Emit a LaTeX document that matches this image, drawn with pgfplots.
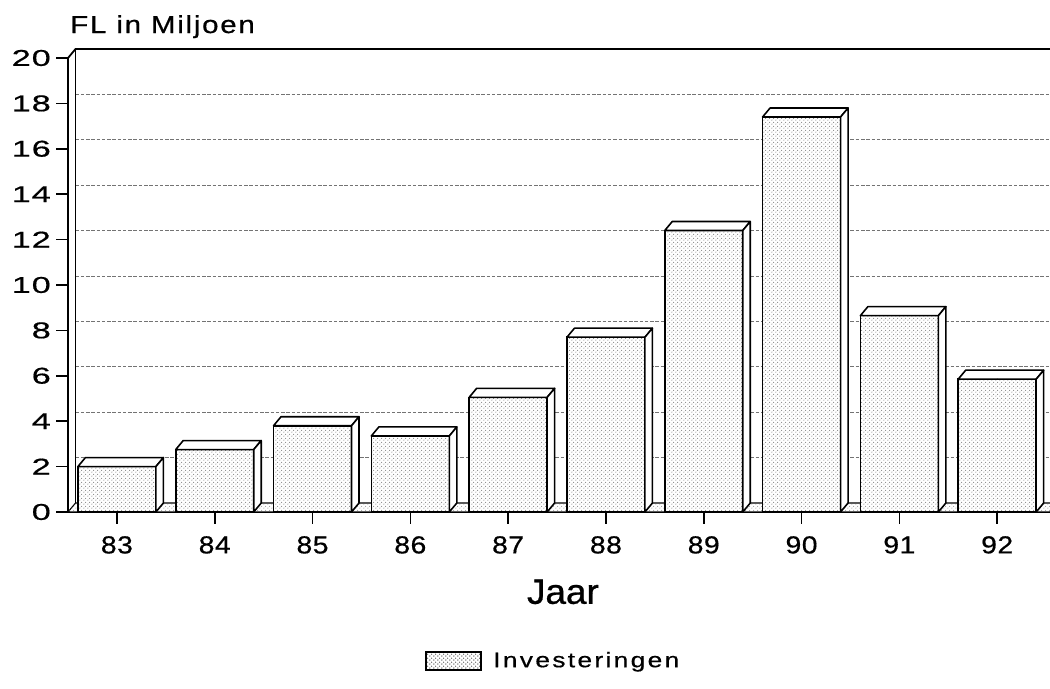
\documentclass[border=0pt]{standalone}
\usepackage{pgfplots}
\pgfplotsset{compat=1.18}
\usetikzlibrary{patterns.meta}
\usepackage{fontspec}
\setmainfont{Liberation Sans}[FakeBold=0.5]
\newfontfamily\yfont{Liberation Sans}[FakeStretch=1.5, LetterSpace=4, FakeBold=0.6]
\newfontfamily\xfont{Liberation Sans}[FakeStretch=1.15, LetterSpace=2, FakeBold=0.6]
\newfontfamily\tfont{Liberation Sans}[FakeStretch=1.2, LetterSpace=7, FakeBold=0.6]
\newfontfamily\lfont{Liberation Sans}[FakeStretch=1.25, LetterSpace=11, FakeBold=0.6]
\newfontfamily\jfont{Liberation Sans}[FakeStretch=1.05, FakeBold=0.8]
\tikzdeclarepattern{
  name=finedots,
  type=uncolored,
  bounding box={(0pt,0pt) and (2.4pt,2.4pt)},
  tile size={(2.4pt,2.4pt)},
  code={
    \pgfpathcircle{\pgfpoint{0.6pt}{0.6pt}}{0.32pt}
    \pgfpathcircle{\pgfpoint{1.8pt}{1.8pt}}{0.32pt}
    \pgfusepath{fill}
  }
}
\pgfplotstableread{
year value
83 2.0
84 2.75
85 3.8
86 3.35
87 5.05
88 7.7
89 12.4
90 17.4
91 8.65
92 5.85
}\investdata
\begin{document}
\begin{tikzpicture}
\path[use as bounding box] (0,0) rectangle (21cm,13.78cm);
\begin{axis}[
  at={(1.36cm,3.54cm)}, anchor=south west,
  scale only axis, width=19.64cm, height=9.08cm,
  xmin=82.5, xmax=92.54, ymin=0, ymax=20,
  clip=false,
  axis x line*=bottom, axis y line*=left,
  axis line style={-, line width=1pt, black},
  xtick={83,...,92}, ytick={0,2,...,20},
  tick align=outside, major tick length=0.24cm,
  tick style={black, line width=0.9pt},
  /pgf/number format/assume math mode=true,
  yticklabel style={font=\yfont\fontsize{13}{14}\selectfont, xshift=0.02cm},
  xticklabel style={font=\xfont\fontsize{14}{15}\selectfont, yshift=-0.12cm},
  ymajorgrids,
  major grid style={xshift=0.15cm, yshift=0.18cm, dash pattern=on 2pt off 1pt, black!55, line width=0.5pt},
  xlabel={Jaar},
  xlabel style={font=\jfont\fontsize{20}{22}\selectfont, at={(axis description cs:0.504,-0.176)}, anchor=center},
  ylabel={FL in Miljoen},
  ylabel style={font=\tfont\fontsize{14}{15}\selectfont, rotate=-90, at={(axis description cs:-0.004,1.055)}, anchor=base west},
  legend style={draw=none, fill=none, at={(axis description cs:0.495,-0.328)}, anchor=center,
    font=\lfont\fontsize{12}{13}\selectfont, legend cell align=left,
    /tikz/every odd column/.append style={column sep=0.16cm}},
  legend image code/.code={\draw[fill=white, postaction={pattern=finedots, pattern color=black!75}, line width=0.8pt] (0cm,-0.18cm) rectangle (1.1cm,0.18cm);},
]
% floor strip
\draw[line width=0.6pt, fill=white, postaction={pattern=finedots, pattern color=black!60}]
  (axis cs:82.5,0) -- (axis cs:92.54,0) -- ([shift={(0.15cm,0.18cm)}]axis cs:92.54,0)
  -- ([shift={(0.15cm,0.18cm)}]axis cs:82.5,0) -- cycle;
% back wall
\draw[line width=1pt] ([shift={(0.15cm,0.18cm)}]axis cs:82.5,0) -- ([shift={(0.15cm,0.18cm)}]axis cs:82.5,20);
\draw[line width=1pt] (axis cs:82.5,20) -- ([shift={(0.15cm,0.18cm)}]axis cs:82.5,20) -- ([shift={(0.15cm,0.18cm)}]axis cs:92.54,20);
% 3D top and side faces of the bars
\addplot[forget plot, scatter, only marks, mark=*, mark size=0.01pt,
  visualization depends on={rawy \as \val},
  scatter/@pre marker code/.code={%
    \pgfmathsetmacro\barhh{\val*0.454}%
    \filldraw[fill=white, draw=black, line width=0.9pt, line join=round]
      (-0.78cm,0cm) -- (-0.63cm,0.18cm) -- (0.93cm,0.18cm) -- (0.78cm,0cm) -- cycle;
    \filldraw[fill=white, draw=black, line width=0.9pt, line join=round]
      (0.78cm,0cm) -- (0.93cm,0.18cm) -- (0.93cm,{(0.18-\barhh)*1cm}) -- (0.78cm,{-\barhh*1cm}) -- cycle;
    \begin{scope}
  },
  scatter/@post marker code/.code={\end{scope}},
] table[x=year, y=value] {\investdata};
% front faces
\addplot[ybar, bar width=1.56cm, draw=black, line width=0.9pt, fill=white,
  postaction={pattern=finedots, pattern color=black!75}]
  table[x=year, y=value] {\investdata};
\addlegendentry{Investeringen}
\end{axis}
\end{tikzpicture}
\end{document}
